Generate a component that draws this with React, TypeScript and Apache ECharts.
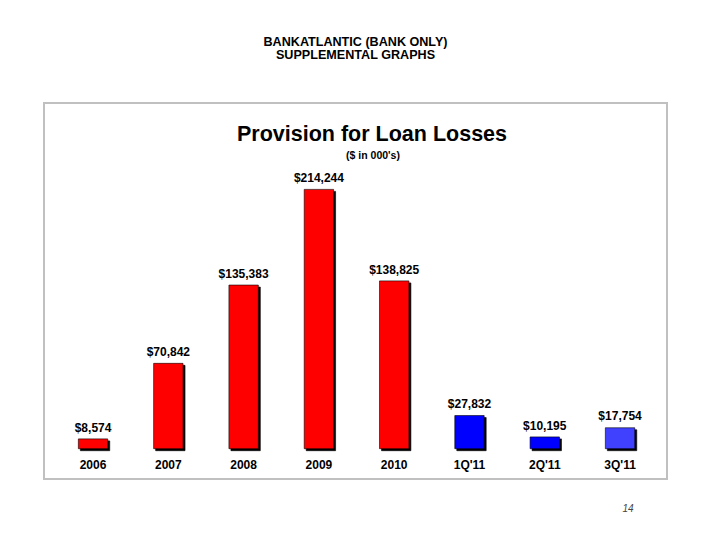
import React, { useEffect, useRef } from "react";
import * as echarts from "echarts";

const categories = ["2006", "2007", "2008", "2009", "2010", "1Q'11", "2Q'11", "3Q'11"];
const provisionValues = [8574, 70842, 135383, 214244, 138825, 27832, 10195, 17754];
const barColors = ["#FF0000", "#FF0000", "#FF0000", "#FF0000", "#FF0000", "#0000FF", "#0000FF", "#3F3FFF"];

const FONT = "Arial, 'Liberation Sans', sans-serif";

export default function App() {
  const ref = useRef<HTMLDivElement>(null);
  useEffect(() => {
    if (!ref.current) return;
    const chart = echarts.init(ref.current, null, { renderer: "svg" });
    chart.setOption({
      animation: false,
      backgroundColor: "#FFFFFF",
      textStyle: { fontFamily: FONT },
      graphic: [
        {
          type: "rect",
          shape: { x: 44, y: 103, width: 623, height: 376 },
          style: { fill: "none", stroke: "#C0C0C0", lineWidth: 2 },
          z: 0,
        },
        {
          type: "text",
          x: 355.5,
          y: 48.5,
          style: {
            text: "BANKATLANTIC (BANK ONLY)\nSUPPLEMENTAL GRAPHS",
            fill: "#000",
            font: `bold 12.6px ${FONT}`,
            lineHeight: 13.5,
            textAlign: "center",
            textVerticalAlign: "middle",
          },
        },
        {
          type: "text",
          x: 372,
          y: 134,
          style: {
            text: "Provision for Loan Losses",
            fill: "#000",
            font: `bold 21.5px ${FONT}`,
            textAlign: "center",
            textVerticalAlign: "middle",
          },
        },
        {
          type: "text",
          x: 373,
          y: 155,
          style: {
            text: "($ in 000's)",
            fill: "#000",
            font: `bold 10.5px ${FONT}`,
            textAlign: "center",
            textVerticalAlign: "middle",
          },
        },
        {
          type: "text",
          x: 628,
          y: 508,
          style: {
            text: "14",
            fill: "#444",
            font: `italic 10px ${FONT}`,
            textAlign: "center",
            textVerticalAlign: "middle",
          },
        },
      ],
      grid: { left: 55.4, right: 52.3, top: 145.7, bottom: 100, containLabel: false },
      xAxis: {
        type: "category",
        data: categories,
        axisLine: { show: false },
        axisTick: { show: false },
        axisLabel: {
          color: "#000",
          fontWeight: "bold",
          fontSize: 12,
          fontFamily: FONT,
          margin: 10,
        },
      },
      yAxis: {
        type: "value",
        min: 0,
        max: 250000,
        show: false,
        splitLine: { show: false },
      },
      series: [
        {
          type: "bar",
          barWidth: 30,
          data: provisionValues.map((v, i) => ({
            value: v,
            itemStyle: { color: barColors[i] },
          })),
          itemStyle: {
            borderColor: "#000",
            borderWidth: 0.6,
            shadowColor: "#000",
            shadowOffsetX: 2,
            shadowOffsetY: 2,
            shadowBlur: 0,
          },
          label: {
            show: true,
            position: "top",
            distance: 5,
            color: "#000",
            fontWeight: "bold",
            fontSize: 12,
            fontFamily: FONT,
            formatter: (p: any) => "$" + Number(p.value).toLocaleString("en-US"),
          },
        },
      ],
    });
    return () => chart.dispose();
  }, []);
  return (
    <div
      ref={ref}
      style={{ position: "fixed", left: 0, top: 0, width: 710, height: 549 }}
    />
  );
}
